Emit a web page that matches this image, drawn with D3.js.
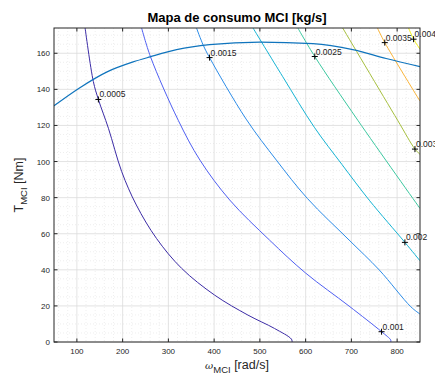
<!DOCTYPE html>
<html>
<head>
<meta charset="utf-8">
<script src="https://cdn.jsdelivr.net/npm/d3@7"></script>
<style>
  body { margin: 0; background: #fff; }
  svg { font-family: "Liberation Sans", Arial, sans-serif; }
</style>
</head>
<body>
<svg id="chart" width="435" height="377"></svg>
<script>
// contour levels [kg/s] and their colours
const levels = [0.0005, 0.001, 0.0015, 0.002, 0.0025, 0.003, 0.0035, 0.004];
const levelColors = ["#3c2ca6", "#4f5ff2", "#2c8ce8", "#16b4d4", "#3cc8a0", "#a6bf3e", "#fbb53a", "#f4f010"];

// contour line points, [speed rad/s, torque Nm]
const c0005 = [[118, 174], [136, 144.3], [147, 134.4], [169, 118.4], [198, 94.4], [230, 75.9], [274, 57.4], [329, 40.8], [401, 26], [474, 14.9], [532, 7.5], [569, 1.6], [570.5, 0]];
const c0010 = [[241.5, 174], [261, 158], [321.5, 122.9], [369, 100.8], [434, 78.7], [521, 56.5], [600, 38.2], [695, 19.9], [766, 5.7], [786, 1.1], [786, 0]];
const c0015 = [[361.5, 174], [376, 164.6], [390, 157.6], [470, 123.5], [536, 100.8], [604, 79.5], [695, 56.5], [761, 39.9], [830, 19.5], [850, 15.5]];
const c0020 = [[485, 174], [550, 147], [619, 119], [679, 98.5], [739, 78.6], [817, 55.2], [850, 45]];
const c0025 = [[583, 174], [620, 158.2], [714, 122.9], [850, 74]];
const c0030 = [[681, 174], [801, 122.9], [839, 106.9], [850, 104]];
const c0035 = [[757, 174], [773, 165.9], [850, 133.5]];
const c0040 = [[825, 174], [836, 167.8], [850, 162.3]];
const contourLines = [c0005, c0010, c0015, c0020, c0025, c0030, c0035, c0040];

// label positions (cross markers) for each level
const labelPoints = [[147, 134.4], [766, 5.7], [390, 157.6], [817, 55.2], [620, 158.2], [839, 106.9], [773, 165.9], [836, 167.8]];
const labelTexts = ["0.0005", "0.001", "0.0015", "0.002", "0.0025", "0.003", "0.0035", "0.004"];

// max torque curve
const maxSpeed = [49, 104, 166, 223, 260, 318, 390, 500, 616, 703, 776, 850];
const maxTorque = [130.7, 140.5, 149.7, 155.2, 158, 162, 164.8, 166.2, 165.3, 162, 157.1, 152.6];

const xTicks = [100, 200, 300, 400, 500, 600, 700, 800];
const yTicks = [0, 20, 40, 60, 80, 100, 120, 140, 160];

const svg = d3.select("#chart");
const margin = { top: 28, right: 15, bottom: 35, left: 54 };
const width = 435 - margin.left - margin.right;
const height = 377 - margin.top - margin.bottom;

const x = d3.scaleLinear().domain([50, 850]).range([0, width]);
const y = d3.scaleLinear().domain([0, 174]).range([height, 0]);

const g = svg.append("g").attr("transform", `translate(${margin.left},${margin.top})`);

svg.append("defs").append("clipPath").attr("id", "clip")
  .append("rect").attr("width", width).attr("height", height);

// minor grid
const minorX = d3.range(60, 850, 20).filter(v => v % 100 !== 0);
const minorY = d3.range(5, 174, 5).filter(v => v % 20 !== 0);
g.append("g").selectAll("line").data(minorX).enter().append("line")
  .attr("x1", d => x(d)).attr("x2", d => x(d)).attr("y1", 0).attr("y2", height)
  .attr("stroke", "#e2e2e2").attr("stroke-width", 0.6).attr("stroke-dasharray", "1,2");
g.append("g").selectAll("line").data(minorY).enter().append("line")
  .attr("y1", d => y(d)).attr("y2", d => y(d)).attr("x1", 0).attr("x2", width)
  .attr("stroke", "#e2e2e2").attr("stroke-width", 0.6).attr("stroke-dasharray", "1,2");

// major grid
g.append("g").selectAll("line").data(xTicks).enter().append("line")
  .attr("x1", d => x(d)).attr("x2", d => x(d)).attr("y1", 0).attr("y2", height)
  .attr("stroke", "#dcdcdc").attr("stroke-width", 0.8);
g.append("g").selectAll("line").data(yTicks).enter().append("line")
  .attr("y1", d => y(d)).attr("y2", d => y(d)).attr("x1", 0).attr("x2", width)
  .attr("stroke", "#dcdcdc").attr("stroke-width", 0.8);

const plot = g.append("g").attr("clip-path", "url(#clip)");

// contour lines
const contourLine = d3.line().x(d => x(d[0])).y(d => y(d[1])).curve(d3.curveCatmullRom.alpha(0.5));
contourLines.forEach((pts, i) => {
  plot.append("path")
    .datum(pts)
    .attr("d", contourLine)
    .attr("fill", "none")
    .attr("stroke", levelColors[i])
    .attr("stroke-width", 1);
});

// max torque curve
const torquePts = maxSpeed.map((s, i) => [s, maxTorque[i]]);
plot.append("path")
  .datum(torquePts)
  .attr("d", d3.line().x(d => x(d[0])).y(d => y(d[1])).curve(d3.curveMonotoneX))
  .attr("fill", "none")
  .attr("stroke", "#0f74bd")
  .attr("stroke-width", 1.2);

// contour labels
labelPoints.forEach((p, i) => {
  const px = x(p[0]), py = y(p[1]);
  g.append("path")
    .attr("d", `M${px - 3},${py}H${px + 3}M${px},${py - 3}V${py + 3}`)
    .attr("stroke", "#000").attr("stroke-width", 1);
  g.append("text")
    .attr("x", px + 1)
    .attr("y", py - 2)
    .style("font-size", "8.5px")
    .attr("fill", "#222")
    .text(labelTexts[i]);
});

// axes box
g.append("rect").attr("width", width).attr("height", height)
  .attr("fill", "none").attr("stroke", "#262626").attr("stroke-width", 1);

// ticks
const tickLen = 3.5;
xTicks.forEach(v => {
  g.append("line").attr("x1", x(v)).attr("x2", x(v)).attr("y1", height).attr("y2", height - tickLen).attr("stroke", "#262626");
  g.append("line").attr("x1", x(v)).attr("x2", x(v)).attr("y1", 0).attr("y2", tickLen).attr("stroke", "#262626");
  g.append("text").attr("x", x(v)).attr("y", height + 12)
    .attr("text-anchor", "middle").style("font-size", "8px").attr("fill", "#262626").text(v);
});
yTicks.forEach(v => {
  g.append("line").attr("y1", y(v)).attr("y2", y(v)).attr("x1", 0).attr("x2", tickLen).attr("stroke", "#262626");
  g.append("line").attr("y1", y(v)).attr("y2", y(v)).attr("x1", width).attr("x2", width - tickLen).attr("stroke", "#262626");
  g.append("text").attr("x", -4).attr("y", y(v) + 3)
    .attr("text-anchor", "end").style("font-size", "8px").attr("fill", "#262626").text(v);
});

// title
svg.append("text")
  .attr("x", margin.left + width / 2)
  .attr("y", 22)
  .attr("text-anchor", "middle")
  .style("font-size", "13px")
  .style("font-weight", "bold")
  .attr("fill", "#000")
  .text("Mapa de consumo MCI [kg/s]");

// x label
const xl = svg.append("text")
  .attr("x", margin.left + width / 2)
  .attr("y", 369)
  .attr("text-anchor", "middle")
  .style("font-size", "12.5px")
  .attr("fill", "#262626");
xl.append("tspan").style("font-family", "DejaVu Serif").style("font-style", "italic").style("font-size", "10px").text("\u03c9");
xl.append("tspan").attr("dy", 4).style("font-size", "9.5px").text("MCI");
xl.append("tspan").attr("dy", -4).text(" [rad/s]");

// y label
const yl = svg.append("text")
  .attr("transform", `translate(23,${margin.top + height / 2}) rotate(-90)`)
  .attr("text-anchor", "middle")
  .style("font-size", "12.5px")
  .attr("fill", "#262626");
yl.append("tspan").text("T");
yl.append("tspan").attr("dy", 4).style("font-size", "9.5px").text("MCI");
yl.append("tspan").attr("dy", -4).text(" [Nm]");
</script>
</body>
</html>
